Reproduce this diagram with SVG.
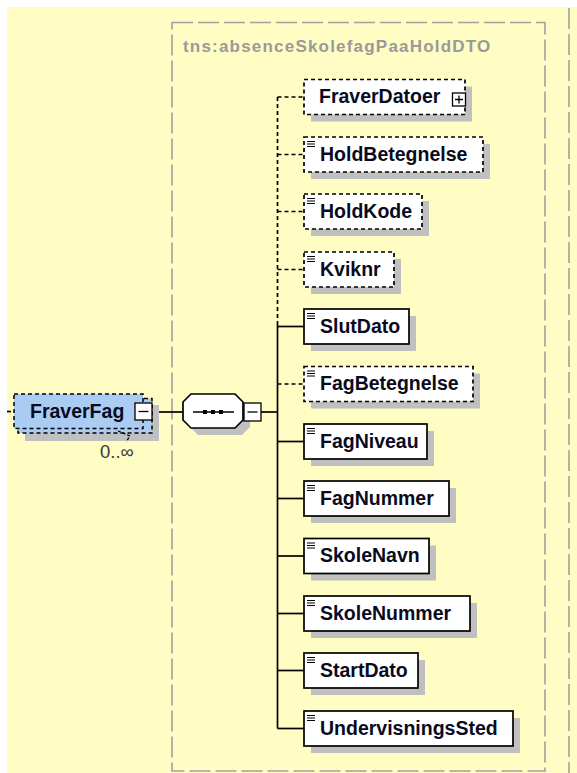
<svg xmlns="http://www.w3.org/2000/svg" xmlns:xlink="http://www.w3.org/1999/xlink" width="577" height="773" viewBox="0 0 577 773">
<style>
.bg{fill:#FFFDC4}
.frame{fill:none;stroke:#A0A0A0;stroke-width:1.6;stroke-dasharray:21 5}
.title{font-family:"Liberation Sans",Arial,sans-serif;font-weight:bold;font-size:17px;letter-spacing:1.2px;fill:#9A9A9A}
.sh{fill:#C0C0C0}
.box{fill:#FFFFFF;stroke:#000;stroke-width:1.7}
.opt{fill:#FFFFFF;stroke:#000;stroke-width:1.7;stroke-dasharray:4 3}
.lbl{font-family:"Liberation Sans",Arial,sans-serif;font-weight:bold;font-size:19.5px;fill:#0A0A1E}
.occ{font-family:"Liberation Sans",Arial,sans-serif;font-size:18.5px;fill:#3A3A3A}
.ln{fill:none;stroke:#000;stroke-width:1.7}
.dl{fill:none;stroke:#000;stroke-width:1.7;stroke-dasharray:4 3}
.btn{fill:#FFFFFF;stroke:#000;stroke-width:1.3}
</style>
<defs>
<g id="ico"><path d="M0 0.5H8M0 3H8M0 5.5H8" stroke="#000" stroke-width="1.2" fill="none"/></g>
</defs>
<rect x="0" y="0" width="577" height="773" fill="#FFFFFF"/>
<rect class="bg" x="7" y="7" width="570" height="766"/>
<g id="frames">
<rect class="frame" x="172" y="22.5" width="373" height="748.5"/>
<line class="frame" x1="569" y1="8" x2="569" y2="773"/>
<text class="title" x="183" y="52">tns:absenceSkolefagPaaHoldDTO</text>
</g>
<g id="connectors">
<line class="dl" x1="7" y1="411.5" x2="14" y2="411.5"/>
<line class="ln" x1="153" y1="412" x2="183" y2="412"/>
<line class="ln" x1="261" y1="412" x2="277.5" y2="412"/>
<line class="dl" x1="277.5" y1="97" x2="277.5" y2="322"/>
<line class="ln" x1="277.5" y1="322" x2="277.5" y2="728.5"/>
<line class="dl" x1="277.5" y1="97" x2="304" y2="97"/>
<line class="dl" x1="277.5" y1="154.5" x2="304" y2="154.5"/>
<line class="dl" x1="277.5" y1="211.5" x2="304" y2="211.5"/>
<line class="dl" x1="277.5" y1="269.5" x2="304" y2="269.5"/>
<line class="ln" x1="277.5" y1="326.5" x2="304" y2="326.5"/>
<line class="dl" x1="277.5" y1="384" x2="304" y2="384"/>
<line class="ln" x1="277.5" y1="441.5" x2="304" y2="441.5"/>
<line class="ln" x1="277.5" y1="498.5" x2="304" y2="498.5"/>
<line class="ln" x1="277.5" y1="556" x2="304" y2="556"/>
<line class="ln" x1="277.5" y1="613.5" x2="304" y2="613.5"/>
<line class="ln" x1="277.5" y1="670.5" x2="304" y2="670.5"/>
<line class="ln" x1="277.5" y1="728.5" x2="304" y2="728.5"/>
</g>
<g id="n-FraverFag">
<rect class="sh" x="25" y="405" width="134" height="36"/>
<rect x="18" y="398.5" width="134" height="34.5" fill="#AACCF2" stroke="#000" stroke-width="1.5" stroke-dasharray="4 3"/>
<rect x="14" y="394" width="129" height="34.5" fill="#AACCF2" stroke="#000" stroke-width="1.5" stroke-dasharray="4 3"/>
<path d="M118 431 L130 436 L126 442" fill="none" stroke="#000" stroke-width="1.2" stroke-dasharray="3 2"/>
<text class="lbl" x="30" y="418">FraverFag</text>
<rect class="btn" x="135" y="403" width="17" height="17"/>
<line x1="138.5" y1="411.5" x2="148.5" y2="411.5" stroke="#000" stroke-width="1.3"/>
<text class="occ" x="100" y="458">0..∞</text>
</g>
<g id="n-sequence">
<polygon class="sh" points="198,401 242,401 250,409 250,427 242,435 198,435 190,427 190,409"/>
<polygon class="box" points="191,394 235,394 243,402 243,420 235,428 191,428 183,420 183,402"/>
<line x1="193" y1="412" x2="234" y2="412" stroke="#000" stroke-width="1.5"/>
<rect x="203" y="410" width="4" height="4" fill="#000"/>
<rect x="211" y="410" width="4" height="4" fill="#000"/>
<rect x="219" y="410" width="4" height="4" fill="#000"/>
<rect class="btn" x="244" y="403" width="17" height="18"/>
<line x1="247.5" y1="412" x2="257.5" y2="412" stroke="#000" stroke-width="1.3"/>
</g>
<g id="n-FraverDatoer">
<rect class="sh" x="311" y="86.5" width="161" height="35"/>
<rect class="opt" x="304" y="79.5" width="161" height="35"/>
<text class="lbl" x="319" y="103">FraverDatoer</text>
<rect class="btn" x="452.5" y="93" width="13" height="13"/>
<path d="M455 99.5H463M459 95.5V103.5" stroke="#000" stroke-width="1.3"/>
</g>
<g id="n-HoldBetegnelse">
<rect class="sh" x="311" y="144" width="179" height="35"/>
<rect class="opt" x="304" y="137" width="179" height="35"/>
<use xlink:href="#ico" x="307" y="141"/>
<text class="lbl" x="320" y="160.5">HoldBetegnelse</text>
</g>
<g id="n-HoldKode">
<rect class="sh" x="311" y="201" width="118" height="35"/>
<rect class="opt" x="304" y="194" width="118" height="35"/>
<use xlink:href="#ico" x="307" y="198"/>
<text class="lbl" x="320" y="217.5">HoldKode</text>
</g>
<g id="n-Kviknr">
<rect class="sh" x="311" y="259" width="90" height="35"/>
<rect class="opt" x="304" y="252" width="90" height="35"/>
<use xlink:href="#ico" x="307" y="256"/>
<text class="lbl" x="320" y="275.5">Kviknr</text>
</g>
<g id="n-SlutDato">
<rect class="sh" x="311" y="316" width="105" height="35"/>
<rect class="box" x="304" y="309" width="105" height="35"/>
<use xlink:href="#ico" x="307" y="313"/>
<text class="lbl" x="320" y="332.5">SlutDato</text>
</g>
<g id="n-FagBetegnelse">
<rect class="sh" x="311" y="373.5" width="169" height="35"/>
<rect class="opt" x="304" y="366.5" width="169" height="35"/>
<use xlink:href="#ico" x="307" y="370.5"/>
<text class="lbl" x="320" y="390">FagBetegnelse</text>
</g>
<g id="n-FagNiveau">
<rect class="sh" x="311" y="431" width="123" height="35"/>
<rect class="box" x="304" y="424" width="123" height="35"/>
<use xlink:href="#ico" x="307" y="428"/>
<text class="lbl" x="320" y="447.5">FagNiveau</text>
</g>
<g id="n-FagNummer">
<rect class="sh" x="311" y="488" width="145" height="35"/>
<rect class="box" x="304" y="481" width="145" height="35"/>
<use xlink:href="#ico" x="307" y="485"/>
<text class="lbl" x="320" y="504.5">FagNummer</text>
</g>
<g id="n-SkoleNavn">
<rect class="sh" x="311" y="545.5" width="125" height="35"/>
<rect class="box" x="304" y="538.5" width="125" height="35"/>
<use xlink:href="#ico" x="307" y="542.5"/>
<text class="lbl" x="320" y="562">SkoleNavn</text>
</g>
<g id="n-SkoleNummer">
<rect class="sh" x="311" y="603" width="166" height="35"/>
<rect class="box" x="304" y="596" width="166" height="35"/>
<use xlink:href="#ico" x="307" y="600"/>
<text class="lbl" x="320" y="619.5">SkoleNummer</text>
</g>
<g id="n-StartDato">
<rect class="sh" x="311" y="660" width="114" height="35"/>
<rect class="box" x="304" y="653" width="114" height="35"/>
<use xlink:href="#ico" x="307" y="657"/>
<text class="lbl" x="320" y="676.5">StartDato</text>
</g>
<g id="n-UndervisningsSted">
<rect class="sh" x="311" y="718" width="209" height="35"/>
<rect class="box" x="304" y="711" width="209" height="35"/>
<use xlink:href="#ico" x="307" y="715"/>
<text class="lbl" x="320" y="734.5">UndervisningsSted</text>
</g>
</svg>
